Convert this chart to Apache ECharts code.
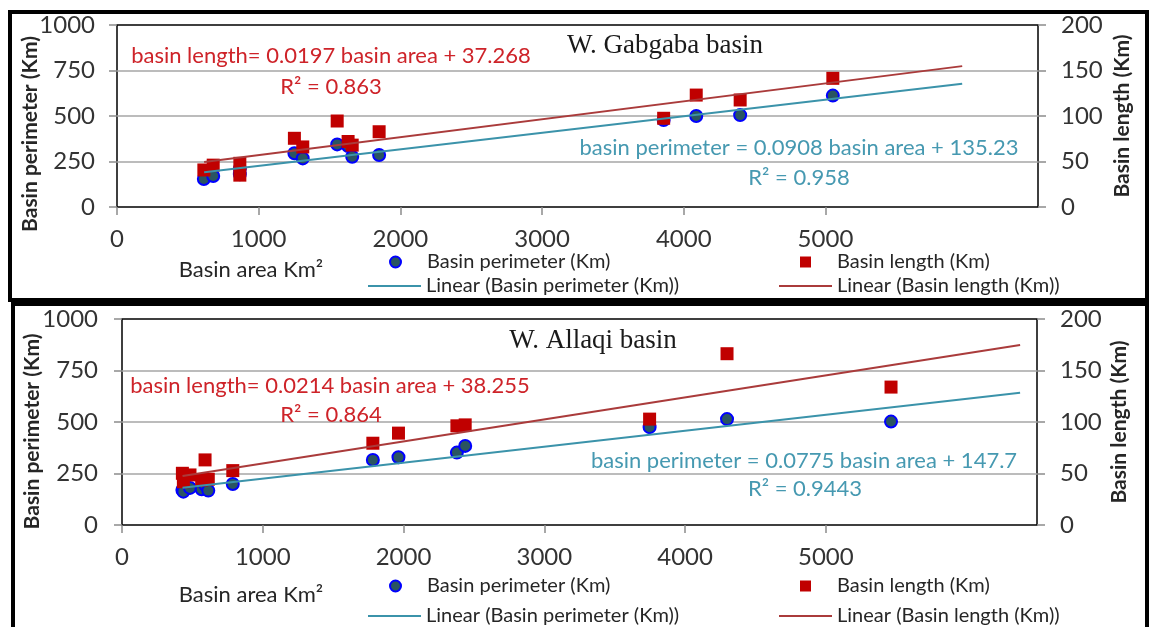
<!DOCTYPE html>
<html><head><meta charset="utf-8">
<script src="https://cdn.jsdelivr.net/npm/echarts@6/dist/echarts.min.js"></script>
<style>html,body{margin:0;padding:0;background:#fff}#c{width:1150px;height:627px}</style>
</head><body><div id="c"></div>
<script>
// ---- tick labels ----
const xTicks = [0, 1000, 2000, 3000, 4000, 5000, 6000];
const leftTicks = [0, 250, 500, 750, 1000];
const rightTicks = [0, 50, 100, 150, 200];

// ---- W. Gabgaba basin ----
const gabArea      = [613, 679, 867, 867, 1252, 1311, 1554, 1631, 1660, 1850, 3858, 4088, 4398, 5052];
const gabPerimeter = [154, 170, 210, 180, 295, 267, 344, 335, 276, 286, 478, 500, 505, 612];
const gabLength    = [40.7, 46, 48, 35, 75.5, 66, 94.5, 72, 68, 82.7, 97.5, 123, 117.6, 141.4];
const gabTrendArea      = [615, 5965];
const gabTrendPerimeter = [191, 677];
const gabTrendLength    = [49.4, 154.8];

// ---- W. Allaqi basin ----
const allArea      = [429, 436, 483, 566, 590, 613, 787, 1782, 1964, 2379, 2438, 3748, 4298, 5463];
const allPerimeter = [170, 162, 180, 173.5, 195, 167, 199, 316, 329, 351.5, 384, 475, 514, 502];
const allLength    = [50.2, 42, 48.6, 43.7, 63.2, 44.4, 52.8, 79.4, 89.2, 96.3, 97.2, 102.8, 166.3, 133.9];
const allTrendArea      = [430, 6380];
const allTrendPerimeter = [181, 642];
const allTrendLength    = [47.5, 174.8];

// ---- texts ----
const seriesNames = ['Basin perimeter (Km)', 'Basin length (Km)', 'Linear (Basin perimeter (Km))', 'Linear (Basin length (Km))'];
const titles = ['W. Gabgaba basin', 'W. Allaqi basin'];
const lenEq = ['basin length= 0.0197 basin area + 37.268', 'basin length= 0.0214 basin area + 38.255'];
const lenR2 = ['R\u00B2 = 0.863', 'R\u00B2 = 0.864'];
const perEq = ['basin perimeter = 0.0908 basin area + 135.23', 'basin perimeter = 0.0775 basin area + 147.7'];
const perR2 = ['R\u00B2 = 0.958', 'R\u00B2 = 0.9443'];
const xName = 'Basin area Km\u00B2';
const yLeftName = 'Basin perimeter (Km)';
const yRightName = 'Basin length (Km)';

const zip = (a, b) => a.map((v, i) => [v, b[i]]);

const C = {
  teal: '#3B93AA', brick: '#AA3B3B', redText: '#CE2329', tealText: '#4699B1',
  dot: '#2A5561', dotBorder: '#0000FF', square: '#C00000', grid: '#A6A6A6', text: '#333333'
};
const FONT = 'Lato';

const panels = [
  { grid: {left: 117, top: 25, width: 921, height: 182},
    area: gabArea, per: gabPerimeter, len: gabLength,
    tA: gabTrendArea, tP: gabTrendPerimeter, tL: gabTrendLength,
    lm: 22, rm: 23, leftPad: 36, leftGap: 76, rightGap: 74,
    txt: {lenEq: [331, 56], lenR2: [331, 87], title: [665, 46], perEq: [799, 148], perR2: [799, 178], xName: [251, 270]},
    legendRows: [263, 287],
    frame: {x: 10, y: 12, width: 1137, height: 288} },
  { grid: {left: 122, top: 319, width: 915, height: 206},
    area: allArea, per: allPerimeter, len: allLength,
    tA: allTrendArea, tP: allTrendPerimeter, tL: allTrendLength,
    lm: 24, rm: 23, leftPad: 19, leftGap: 79, rightGap: 72,
    txt: {lenEq: [330, 386], lenR2: [331, 415], title: [593, 341], perEq: [804, 461], perR2: [805, 489], xName: [251, 595]},
    legendRows: [587, 617],
    frame: {x: 13, y: 304, width: 1134, height: 340} }
];

const grids = [], xAxes = [], yAxes = [], series = [], legends = [], graphics = [];
const labelStyle = {fontFamily: FONT, fontSize: 24, color: C.text, formatter: v => String(v)};
const tickStyle = {show: true, length: 8, lineStyle: {color: '#8C8C8C', width: 1.5}};
const icons = [
  'circle',
  'path://M0,0L10,0L10,10L0,10Z',
  'path://M0,0L53,0L53,2L0,2Z',
  'path://M0,0L53,0L53,2L0,2Z'
];

panels.forEach((p, i) => {
  grids.push(Object.assign({show: true, borderColor: '#000', borderWidth: 1.5, backgroundColor: '#fff', containLabel: false, outerBoundsMode: 'none'}, p.grid));
  xAxes.push({
    type: 'value', gridIndex: i, min: 0, max: 6500, interval: 1000,
    axisLine: {show: false},
    axisTick: Object.assign({customValues: xTicks}, tickStyle),
    axisLabel: Object.assign({margin: 20, showMaxLabel: false, customValues: xTicks}, labelStyle),
    splitLine: {show: false}
  });
  yAxes.push({
    type: 'value', gridIndex: i, position: 'left', min: 0, max: 1000, interval: 250,
    name: yLeftName, nameLocation: 'middle', nameRotate: 90, nameGap: p.leftGap, nameMoveOverlap: false,
    nameTextStyle: {fontFamily: FONT, fontSize: 21, fontWeight: 'bold', color: '#262626', padding: [0, p.leftPad, 0, 0]},
    axisLine: {show: false},
    axisTick: Object.assign({customValues: leftTicks}, tickStyle),
    axisLabel: Object.assign({margin: p.lm, customValues: leftTicks}, labelStyle),
    splitLine: {show: true, showMinLine: false, showMaxLine: false, lineStyle: {color: C.grid, width: 1.5}}
  });
  yAxes.push({
    type: 'value', gridIndex: i, position: 'right', min: 0, max: 200, interval: 50,
    name: yRightName, nameLocation: 'middle', nameRotate: 90, nameGap: p.rightGap, nameMoveOverlap: false,
    nameTextStyle: {fontFamily: FONT, fontSize: 21, fontWeight: 'bold', color: '#262626'},
    axisLine: {show: false},
    axisTick: Object.assign({customValues: rightTicks}, tickStyle),
    axisLabel: Object.assign({margin: p.rm, customValues: rightTicks}, labelStyle),
    splitLine: {show: false}
  });
  series.push({
    name: seriesNames[0], type: 'scatter', xAxisIndex: i, yAxisIndex: 2 * i,
    data: zip(p.area, p.per), symbol: 'circle', symbolSize: 12, z: 3,
    itemStyle: {color: C.dot, borderColor: C.dotBorder, borderWidth: 2, opacity: 1}
  });
  series.push({
    name: seriesNames[1], type: 'scatter', xAxisIndex: i, yAxisIndex: 2 * i + 1,
    data: zip(p.area, p.len), symbol: 'rect', symbolSize: 13, z: 4,
    itemStyle: {color: C.square, opacity: 1}
  });
  series.push({
    name: seriesNames[2], type: 'line', xAxisIndex: i, yAxisIndex: 2 * i,
    data: zip(p.tA, p.tP), symbol: 'none', z: 5,
    lineStyle: {color: C.teal, width: 2}, itemStyle: {color: C.teal}
  });
  series.push({
    name: seriesNames[3], type: 'line', xAxisIndex: i, yAxisIndex: 2 * i + 1,
    data: zip(p.tA, p.tL), symbol: 'none', z: 5,
    lineStyle: {color: C.brick, width: 2}, itemStyle: {color: C.brick}
  });
  const legBase = {orient: 'horizontal', padding: 0, itemWidth: 53, itemHeight: 11, itemGap: 0, selectedMode: false,
    symbolKeepAspect: true,
    textStyle: {fontFamily: FONT, fontSize: 20, color: '#262626'}};
  // scatter legends are laid out narrower by the library, so they start further right
  const lx = [[389, 800], [368, 779]];
  [[0, 0, 0], [1, 1, 0], [2, 0, 1], [3, 1, 1]].forEach(([n, col, row]) => {
    legends.push(Object.assign({}, legBase, {data: [{name: seriesNames[n], icon: icons[n]}], left: lx[row][col], top: p.legendRows[row] - 11}));
  });
  graphics.push({type: 'rect', shape: p.frame, style: {fill: 'none', stroke: '#000', lineWidth: 4}, z: 100});
  const t = (txt, pos, fill, font) => graphics.push({type: 'text', x: pos[0], y: pos[1], z: 50,
    style: {text: txt, fill: fill, font: font, align: 'center', verticalAlign: 'middle'}});
  t(lenEq[i], p.txt.lenEq, C.redText, '22px Lato');
  t(lenR2[i], p.txt.lenR2, C.redText, '22px Lato');
  t(perEq[i], p.txt.perEq, C.tealText, '22px Lato');
  t(perR2[i], p.txt.perR2, C.tealText, '22px Lato');
  t(titles[i], p.txt.title, '#1A1A1A', '27px "Liberation Serif"');
  t(xName, p.txt.xName, '#262626', '22px Lato');
});

const chart = echarts.init(document.getElementById('c'), null, {renderer: 'canvas'});
chart.setOption({
  animation: false,
  backgroundColor: '#fff',
  grid: grids, xAxis: xAxes, yAxis: yAxes, series: series, legend: legends,
  graphic: {elements: graphics}
});
</script></body></html>
